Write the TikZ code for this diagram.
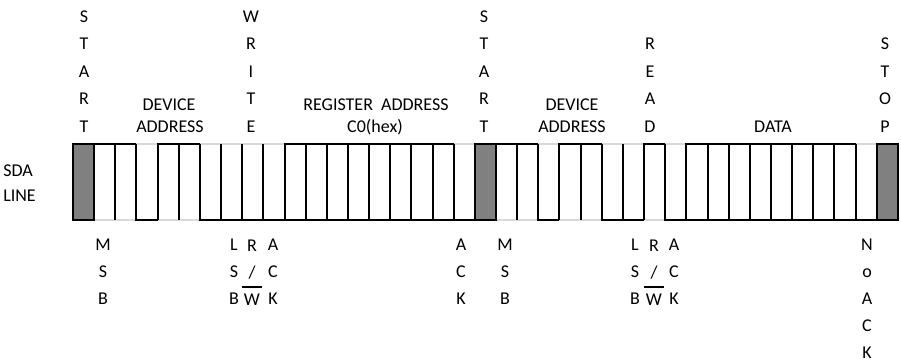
\documentclass[tikz,border=0pt]{standalone}
\usepackage{fontspec}
\setmainfont{Carlito}
\newcommand\vstk[5]{%
  \foreach \ltr [count=\kk from 0] in {#5} {%
    \node[lbl] (#1-\kk) at (#2, #3+\kk*#4) {\ltr};
  }%
}
\begin{document}
\begin{tikzpicture}[x=0.75pt,y=-0.75pt,
  lbl/.style={font=\fontsize{13.5}{16}\selectfont, inner sep=0pt, anchor=base, text=black},
  hiline/.style={line width=1.5pt, black, line cap=rect},
  loline/.style={line width=0.8pt, color=black!15},
  sepline/.style={line width=1.5pt, black},
  barline/.style={line width=1.1pt, black},
  graybox/.style={fill=black!50, draw=black, line width=1.5pt}]
\useasboundingbox (0,0) rectangle (901,361);
% waveform
\foreach \v [count=\i from 0] in {3,1,1,0,1,1,0,0,0,0,2,2,2,2,2,2,2,2,0,3,1,1,0,1,1,0,0,1,0,2,2,2,2,2,2,2,2,0,3} {
  \pgfmathsetmacro\xa{73+\i*21.15}
  \pgfmathsetmacro\xb{\xa+21.15}
  \ifnum\v=0
    \draw[loline] (\xa,144) -- (\xb,144);
    \draw[hiline] (\xa,220) -- (\xb,220);
  \fi
  \ifnum\v=1
    \draw[loline] (\xa,220) -- (\xb,220);
    \draw[hiline] (\xa,144) -- (\xb,144);
  \fi
  \ifnum\v=2
    \draw[hiline] (\xa,144) -- (\xb,144);
    \draw[hiline] (\xa,220) -- (\xb,220);
  \fi
}
\foreach \i in {0,...,39} {
  \pgfmathsetmacro\xa{73+\i*21.15}
  \draw[sepline] (\xa,144) -- (\xa,220);
}
\foreach \i in {0,19,38} {
  \pgfmathsetmacro\xa{73+\i*21.15}
  \pgfmathsetmacro\xb{\xa+21.15}
  \filldraw[graybox] (\xa,144) rectangle (\xb,220);
}
% left label
\node[lbl, anchor=base west] (sda) at (3,176) {SDA};
\node[lbl, anchor=base west] (line) at (3,201) {LINE};
% top labels
\vstk{startA}{84}{22}{27.5}{S,T,A,R,T}
\vstk{write}{251}{22}{27.5}{W,R,I,T,E}
\vstk{startB}{484}{22}{27.5}{S,T,A,R,T}
\vstk{read}{650}{49.5}{27.5}{R,E,A,D}
\vstk{stop}{885}{49.5}{27.5}{S,T,O,P}
\node[lbl] (devA1) at (169,110) {DEVICE};
\node[lbl] (devA2) at (170,132) {ADDRESS};
\node[lbl] (reg1) at (376,110) {REGISTER\ \ ADDRESS};
\node[lbl] (reg2) at (375,132) {C0(hex)};
\node[lbl] (devB1) at (572,110) {DEVICE};
\node[lbl] (devB2) at (572,132) {ADDRESS};
\node[lbl] (data) at (773,132) {DATA};
% bottom labels
\vstk{msbA}{103}{250}{27}{M,S,B}
\vstk{lsbA}{234}{250}{27}{L,S,B}
\vstk{rwA}{252}{251}{27}{R,/,W}
\vstk{ackA}{273}{250}{27}{A,C,K}
\vstk{ackB}{461}{250}{27}{A,C,K}
\vstk{msbB}{505}{250}{27}{M,S,B}
\vstk{lsbB}{635}{250}{27}{L,S,B}
\vstk{rwB}{654}{251}{27}{R,/,W}
\vstk{ackC}{674}{250}{27}{A,C,K}
\vstk{nack}{867}{250}{27}{N,o,A,C,K}
\draw[barline] ([xshift=-1pt,yshift=4.5pt]rwA-2.north west) -- ([xshift=1pt,yshift=4.5pt]rwA-2.north east);
\draw[barline] ([xshift=-1pt,yshift=4.5pt]rwB-2.north west) -- ([xshift=1pt,yshift=4.5pt]rwB-2.north east);
\end{tikzpicture}
\end{document}
